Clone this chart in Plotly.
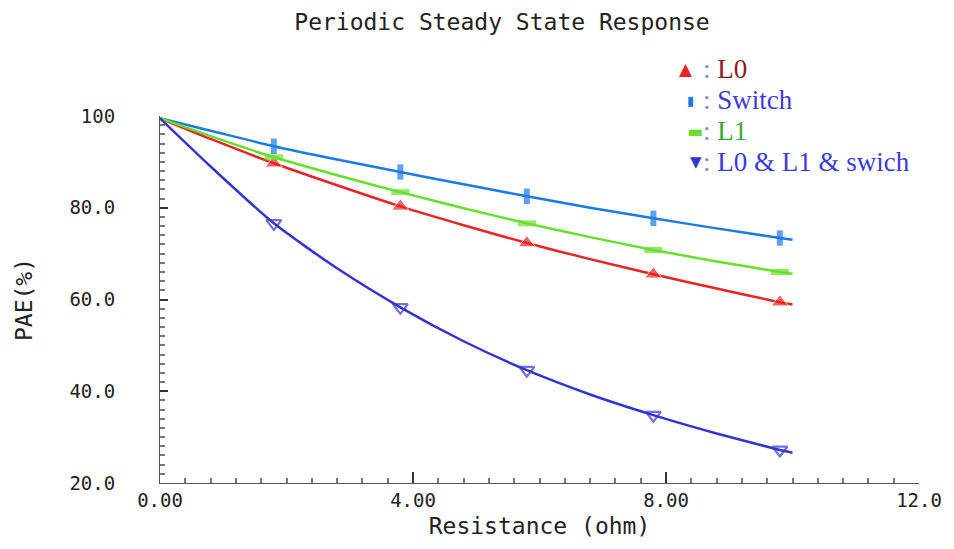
import plotly.graph_objects as go

# ---- data ----
resistance = [0.0, 0.8, 1.8, 2.8, 3.8, 4.8, 5.8, 6.8, 7.8, 8.8, 9.8, 10.0]
pae_l0 =     [99.5, 95.0, 89.7, 84.9, 80.3, 76.2, 72.3, 68.8, 65.5, 62.4, 59.4, 58.9]
pae_switch = [99.5, 96.8, 93.4, 90.5, 87.8, 85.1, 82.5, 80.0, 77.7, 75.5, 73.4, 73.0]
pae_l1 =     [99.5, 95.6, 91.0, 87.1, 83.4, 79.9, 76.6, 73.6, 70.8, 68.3, 66.0, 65.6]
pae_all =    [99.5, 89.0, 76.6, 66.8, 58.3, 50.9, 44.6, 39.3, 34.8, 30.8, 27.2, 26.6]
marker_on =  [0, 0, 1, 0, 1, 0, 1, 0, 1, 0, 1, 0]

series_names = ["L0", "Switch", "L1", "L0 & L1 & swich"]
x_tickvals = [0, 4, 8, 12]
x_ticktext = ["0.00", "4.00", "8.00", "12.0"]
y_tickvals = [20, 40, 60, 80, 100]
y_ticktext = ["20.0", "40.0", "60.0", "80.0", "100"]

W, H = 954, 549
L, R, T, B = 160, 29, 116, 66

fig = go.Figure()

styles = [
    (pae_l0, "#e82424", dict(symbol="triangle-up", size=15)),
    (pae_switch, "#1c7ae6", dict(symbol="line-ns", size=11, line=dict(width=6, color="#1c7ae6"))),
    (pae_l1, "#66e02c", dict(symbol="line-ew", size=13, line=dict(width=6, color="#66e02c"))),
    (pae_all, "#3434cc", dict(symbol="triangle-down-open", size=13, line=dict(width=2.2, color="#3434cc"))),
]
for (ys, col, mk), name in zip(styles, series_names):
    m = dict(mk)
    base = m.pop("size")
    m["size"] = [base if f else 0 for f in marker_on]
    m["color"] = col
    fig.add_trace(go.Scatter(x=resistance, y=ys, mode="lines+markers", name=name,
                             line=dict(color=col, width=2.5, shape="spline", smoothing=0.6),
                             marker=m, showlegend=False))

mono = "DejaVu Sans Mono"
axis_font = dict(family=mono, size=19, color="#222222")
title_font = dict(family=mono, size=23, color="#222222")
fig.update_layout(
    width=W, height=H,
    margin=dict(l=L, r=R, t=T, b=B),
    paper_bgcolor="white", plot_bgcolor="white",
    title=dict(text="Periodic Steady State Response", x=502 / W, xanchor="center",
               y=1 - 22 / H, yanchor="middle",
               font=dict(family=mono, size=23, color="#222222")),
    xaxis=dict(range=[0, 12], tickvals=x_tickvals, ticktext=x_ticktext,
               showgrid=False, zeroline=False, showline=True, linecolor="#555555", linewidth=1,
               ticks="inside", ticklen=11, tickcolor="#333333", tickwidth=1.5,
               minor=dict(dtick=0.4, ticks="inside", ticklen=5, tickcolor="#777777"),
               tickfont=axis_font,
               title=dict(text="Resistance (ohm)", font=title_font, standoff=8)),
    yaxis=dict(range=[20, 100], tickvals=y_tickvals, ticktext=y_ticktext,
               showgrid=False, zeroline=False, showline=True, linecolor="#555555", linewidth=1,
               ticks="inside", ticklen=8, tickcolor="#333333", tickwidth=1.5,
               minor=dict(dtick=2, ticks="inside", ticklen=5, tickcolor="#777777"),
               tickfont=axis_font, ticklabelstandoff=40,
               title=dict(text="PAE(%)", font=title_font, standoff=30)),
)

# legend drawn as text annotations: (symbol, colour, size, symbol x px, label, label colour, row y px)
legend_rows = [
    ("▲", "#e82424", 17, 690, "L0", "#8e1c1c", 69),
    ("▮", "#1c7ae6", 13, 695, "Switch", "#3b3bd8", 100),
    ("▬", "#66e02c", 17, 699, "L1", "#3aa83a", 131),
    ("▼", "#3434cc", 15, 700, "L0 &amp; L1 &amp; swich", "#3b3bd8", 162),
]
pw, ph = W - L - R, H - T - B
for sym, scol, ssize, sx, label, lcol, py in legend_rows:
    yp = (H - B - py) / ph
    fig.add_annotation(
        xref="paper", yref="paper", x=(sx - L) / pw, y=yp,
        xanchor="center", yanchor="middle", showarrow=False,
        text=sym, font=dict(family="DejaVu Sans", size=ssize, color=scol),
    )
    fig.add_annotation(
        xref="paper", yref="paper", x=(705 - L) / pw, y=yp,
        xanchor="left", yanchor="middle", showarrow=False,
        text=f"<span style='color:#7a8ad8'>:</span> {label}",
        font=dict(family="Liberation Serif", size=27, color=lcol),
    )

fig.write_html("out.html", config={"displayModeBar": False},
               post_script="document.body.style.margin='0';")
